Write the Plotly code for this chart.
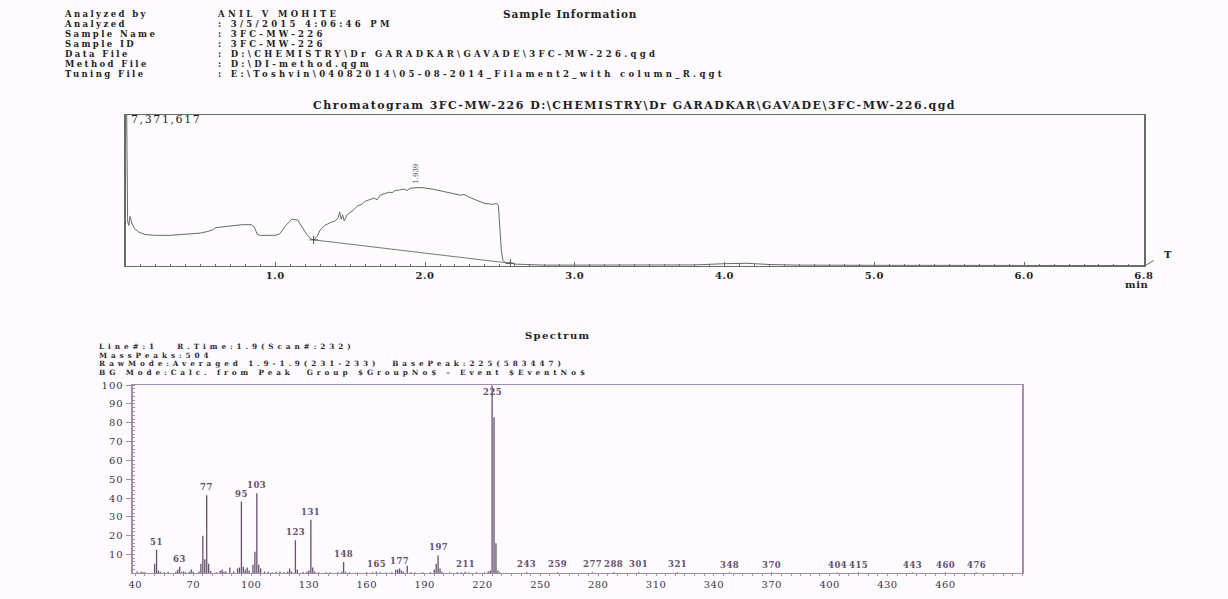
import plotly.graph_objects as go

W, H = 1228, 599

# ---------------- header ----------------
header_title = "Sample Information"
header_keys = ["Analyzed by", "Analyzed", "Sample Name", "Sample ID",
               "Data File", "Method File", "Tuning File"]
header_vals = ["ANIL V MOHITE",
               ": 3/5/2015 4:06:46 PM",
               ": 3FC-MW-226",
               ": 3FC-MW-226",
               ": D:\\CHEMISTRY\\Dr GARADKAR\\GAVADE\\3FC-MW-226.qgd",
               ": D:\\DI-method.qgm",
               ": E:\\Toshvin\\04082014\\05-08-2014_Filament2_with column_R.qgt"]

chrom_title = "Chromatogram 3FC-MW-226 D:\\CHEMISTRY\\Dr GARADKAR\\GAVADE\\3FC-MW-226.qgd"
chrom_max_label = "7,371,617"
chrom_max = 7.371617  # millions of counts

# ---------------- chromatogram (TIC, millions of counts) ----------------
chrom_time = [0.000, 0.008, 0.014, 0.022, 0.030, 0.036, 0.044, 0.060, 0.090, 0.130,
              0.200, 0.300, 0.400, 0.500, 0.550, 0.580, 0.600, 0.700, 0.780, 0.840,
              0.860, 0.880, 0.900, 1.000, 1.030, 1.070, 1.110, 1.150, 1.180, 1.210,
              1.240, 1.256, 1.280, 1.300, 1.330, 1.370, 1.400, 1.420, 1.430, 1.440,
              1.450, 1.460, 1.480, 1.520, 1.550, 1.580, 1.600, 1.630, 1.660, 1.680,
              1.700, 1.730, 1.760, 1.780, 1.800, 1.830, 1.860, 1.880, 1.900, 1.940,
              1.980, 2.050, 2.120, 2.200, 2.240, 2.260, 2.300, 2.360, 2.400, 2.450,
              2.480, 2.490, 2.510, 2.520, 2.540, 2.570, 2.600, 2.800, 3.000, 3.500,
              3.800, 4.000, 4.150, 4.300, 4.500, 5.000, 6.000, 6.800]
chrom_int = [7.37, 7.37, 2.21, 1.99, 2.43, 2.21, 2.06, 1.84, 1.66, 1.55,
             1.51, 1.51, 1.55, 1.62, 1.70, 1.77, 1.88, 1.95, 2.03, 2.03,
             1.92, 1.55, 1.51, 1.51, 1.58, 1.99, 2.29, 2.25, 1.92, 1.55,
             1.33, 1.29, 1.47, 1.77, 1.99, 2.14, 2.21, 2.36, 2.65, 2.29,
             2.51, 2.21, 2.51, 2.73, 2.95, 3.02, 3.17, 3.24, 3.32, 3.24,
             3.46, 3.54, 3.61, 3.58, 3.69, 3.72, 3.76, 3.69, 3.80, 3.83,
             3.83, 3.76, 3.65, 3.54, 3.46, 3.50, 3.35, 3.17, 3.06, 3.02,
             3.06, 2.95, 0.74, 0.29, 0.15, 0.18, 0.11, 0.06, 0.06, 0.06,
             0.07, 0.13, 0.15, 0.09, 0.06, 0.05, 0.04, 0.04]

# integration baseline under the broad peak
base_time = [1.256, 2.570]
base_int = [1.29, 0.15]

peak_rt_label = "1.939"
peak_rt = 1.94
peak_top = 3.83

# ---------------- mass spectrum (relative intensity, %) ----------------
ms_mz = [41, 43, 44, 45, 50, 51, 52, 53, 55, 57, 61, 62, 63, 64, 65, 66, 68, 69, 70,
         73, 74, 75, 76, 77, 78, 79, 82, 84, 85, 86, 87, 89, 91, 93, 94, 95, 96, 97,
         98, 99, 101, 102, 103, 104, 105, 107, 109, 111, 113, 115, 117, 119, 120, 121,
         123, 124, 127, 129, 130, 131, 132, 133, 135, 139, 141, 145, 147, 148, 149,
         151, 155, 160, 163, 165, 167, 170, 173, 175, 176, 177, 178, 179, 181, 183,
         185, 189, 193, 195, 196, 197, 198, 199, 203, 207, 209, 211, 213, 217, 221,
         223, 224, 225, 226, 227, 228, 229, 243, 259, 277, 288, 301, 321, 348, 370,
         404, 415, 443, 460, 476]
ms_rel = [1.0, 0.8, 0.6, 0.5, 5.0, 12.5, 1.5, 0.8, 0.6, 0.8, 0.8, 1.8, 3.5, 0.6, 1.0, 0.5, 0.8, 2.0, 0.8,
          1.0, 5.0, 20.0, 7.5, 41.5, 5.0, 1.2, 0.6, 1.2, 2.0, 0.8, 1.0, 3.0, 1.0, 2.5, 3.0, 38.0, 3.5, 2.0,
          3.0, 1.5, 4.5, 11.5, 42.5, 4.5, 2.5, 1.0, 0.8, 0.6, 0.8, 1.0, 0.5, 0.8, 2.5, 1.0,
          17.5, 2.0, 0.7, 0.8, 1.5, 28.5, 3.0, 1.0, 0.6, 0.5, 0.5, 0.6, 0.8, 6.0, 0.8,
          0.5, 0.4, 0.5, 0.5, 0.8, 0.5, 0.4, 0.6, 1.8, 2.0, 2.5, 1.5, 0.8, 4.0, 0.6,
          0.4, 0.6, 0.6, 2.0, 5.0, 9.5, 2.5, 0.8, 0.4, 0.6, 0.6, 0.8, 0.4, 0.5, 0.5,
          1.0, 1.5, 100.0, 83.0, 16.0, 1.5, 0.5, 0.6, 0.5, 0.5, 0.5, 0.5, 0.5, 0.4, 0.4,
          0.4, 0.4, 0.4, 0.4, 0.4]
ms_labels = [51, 63, 77, 95, 103, 123, 131, 148, 165, 177, 197, 211, 225,
             243, 259, 277, 288, 301, 321, 348, 370, 404, 415, 443, 460, 476]

spec_title = "Spectrum"
spec_info = ["Line#:1   R.Time:1.9(Scan#:232)",
             "MassPeaks:504",
             "RawMode:Averaged 1.9-1.9(231-233)  BasePeak:225(583447)",
             "BG Mode:Calc. from Peak  Group $GroupNo$ - Event $EventNo$"]

ms_ticks = [40, 70, 100, 130, 160, 190, 220, 250, 280, 310, 340, 370, 400, 430, 460]
ms_yticks = [10, 20, 30, 40, 50, 60, 70, 80, 90, 100]
rt_ticks = [1.0, 2.0, 3.0, 4.0, 5.0, 6.0, 6.8]

# ---------------- styling ----------------
SERIF = "DejaVu Serif"
INK = "#1f1f1f"
CHROM_LINE = "#6a6a6a"
SPEC_INK = "#65506e"
SPEC_FRAME = "#a58eab"


def styled(text, size, spacing, bold=False):
    """Wide, tightly leaded print: glyph size set per span, letters spaced out."""
    body = f"<b>{text}</b>" if bold else text
    return (f'<span style="font-size:{size}px;letter-spacing:{spacing}px">'
            f'{body}</span>')


def block(lines, size, spacing, bold=False):
    return "<br>".join(styled(t, size, spacing, bold) for t in lines)


def py(pixel_y):
    return 1 - pixel_y / H


def px(pixel_x):
    return pixel_x / W


# plot-area geometry (pixels)
CH_L, CH_R, CH_T, CH_B = 122, 1153, 110, 263
SP_L, SP_R, SP_T, SP_B = 130, 1030, 383, 573

fig = go.Figure()

# chromatogram trace
fig.add_trace(go.Scatter(x=chrom_time, y=chrom_int, mode="lines",
                         line=dict(color=CHROM_LINE, width=1), xaxis="x", yaxis="y",
                         hoverinfo="skip", showlegend=False))
fig.add_trace(go.Scatter(x=base_time, y=base_int, mode="lines+markers",
                         line=dict(color=CHROM_LINE, width=0.9),
                         marker=dict(symbol="cross-thin", size=6,
                                     line=dict(color="#555", width=1)),
                         xaxis="x", yaxis="y", hoverinfo="skip", showlegend=False))

# mass spectrum sticks
stick_x, stick_y = [], []
for m, r in zip(ms_mz, ms_rel):
    stick_x += [m, m, None]
    stick_y += [0, r, None]
fig.add_trace(go.Scatter(x=stick_x, y=stick_y, mode="lines",
                         line=dict(color=SPEC_INK, width=1.3), xaxis="x2", yaxis="y2",
                         hoverinfo="skip", showlegend=False))

ann = []


def paper_text(text, x, y, xanchor="left", yanchor="middle", size=11, color=INK):
    ann.append(dict(text=text, x=px(x), y=py(y), xref="paper", yref="paper",
                    showarrow=False, xanchor=xanchor, yanchor=yanchor, align="left",
                    font=dict(family=SERIF, size=size, color=color)))


# header block: line pitch comes from the base size, glyph size from the span
HDR_PITCH = 10.0
paper_text(styled(header_title, 10.5, 0.9, bold=True), 572, 8, xanchor="center")
paper_text(block(header_keys, 8.5, 2.4, bold=True), 58, 1, yanchor="top",
           size=HDR_PITCH / 1.3)
paper_text(block(header_vals, 8.5, 3.3, bold=True), 213, 1, yanchor="top",
           size=HDR_PITCH / 1.3)

# chromatogram labels
paper_text(styled(chrom_title, 11, 1.5, bold=True), (CH_L + CH_R) / 2, 101,
           xanchor="center")
paper_text(styled(chrom_max_label, 11, 1.6), CH_L + 4, 115)
ann.append(dict(text=peak_rt_label, x=peak_rt, y=peak_top, xref="x", yref="y",
                showarrow=False, textangle=-90, xanchor="center", yanchor="bottom",
                yshift=2, font=dict(family=SERIF, size=7, color="#444")))
paper_text(styled("min", 10, 0.6, bold=True), 1146, 281, xanchor="center")
paper_text(styled("T", 10, 0, bold=True), 1177, 251, xanchor="center")

# spectrum labels
SPEC_PITCH = 8.5
paper_text(styled(spec_title, 10, 1.4, bold=True), 560, 333, xanchor="center")
paper_text(block(spec_info, 7.3, 3.9, bold=True), 93, 337, yanchor="top",
           size=SPEC_PITCH / 1.3, color="#2e2833")

rel_of = dict(zip(ms_mz, ms_rel))
for m in ms_labels:
    top = rel_of[m] > 95  # the base peak carries its label inside the frame
    ann.append(dict(text=styled(str(m), 8.5, 0.5, bold=True), x=m,
                    y=100 if top else rel_of[m], xref="x2", yref="y2",
                    showarrow=False, xanchor="center",
                    yanchor="top" if top else "bottom", yshift=0 if top else 1,
                    font=dict(family=SERIF, size=8.5, color=SPEC_INK)))

shapes = [
    # small slanted stub at the right end of the time axis
    dict(type="line", xref="paper", yref="paper", x0=px(CH_R), y0=py(CH_B),
         x1=px(CH_R + 10), y1=py(CH_B - 6), line=dict(color=CHROM_LINE, width=1)),
]

tick_font = dict(family=SERIF, size=10, color=INK)
spec_tick_font = dict(family=SERIF, size=10, color="#3f3447")

fig.update_layout(
    width=W, height=H,
    margin=dict(l=0, r=0, t=0, b=0),
    paper_bgcolor="#fdfbfd", plot_bgcolor="rgba(0,0,0,0)",
    showlegend=False,
    annotations=ann, shapes=shapes,
    xaxis=dict(domain=[px(CH_L), px(CH_R)], range=[0, 6.8], anchor="y",
               showgrid=False, zeroline=False, showline=True, linecolor=CHROM_LINE,
               linewidth=1, mirror=True,
               tickvals=rt_ticks,
               ticktext=[styled(f"{t:.1f}", 10, 0.6, bold=True) for t in rt_ticks],
               ticks="inside", ticklen=4, tickcolor=CHROM_LINE, tickfont=tick_font,
               minor=dict(dtick=0.1, tick0=0, ticks="inside", ticklen=2,
                          tickcolor=CHROM_LINE, showgrid=False)),
    yaxis=dict(domain=[py(CH_B), py(CH_T)], range=[0, chrom_max], anchor="x",
               showgrid=False, zeroline=False, showline=True, linecolor=CHROM_LINE,
               linewidth=1.5, mirror=True, showticklabels=False, ticks=""),
    xaxis2=dict(domain=[px(SP_L), px(SP_R)], range=[39, 500], anchor="y2",
                showgrid=False, zeroline=False, showline=True, linecolor=SPEC_FRAME,
                linewidth=1.2, mirror=True, tickvals=ms_ticks,
                ticktext=[styled(str(t), 10, 0.4) for t in ms_ticks],
                ticks="outside", ticklen=2, tickcolor=SPEC_FRAME, tickfont=spec_tick_font,
                minor=dict(dtick=5, tick0=40, ticks="outside", ticklen=2,
                           tickcolor=SPEC_FRAME, showgrid=False)),
    yaxis2=dict(domain=[py(SP_B), py(SP_T)], range=[0, 100], anchor="x2",
                showgrid=False, zeroline=False, showline=True, linecolor=SPEC_FRAME,
                linewidth=1.5, mirror=True, tickvals=ms_yticks,
                ticktext=[styled(str(t), 10, 1.0) for t in ms_yticks],
                ticks="outside", ticklen=6, tickcolor=SPEC_FRAME, tickfont=spec_tick_font,
                minor=dict(dtick=2, ticks="inside", ticklen=2,
                           tickcolor=SPEC_FRAME, showgrid=False)),
)

fig.write_html("out.html")
